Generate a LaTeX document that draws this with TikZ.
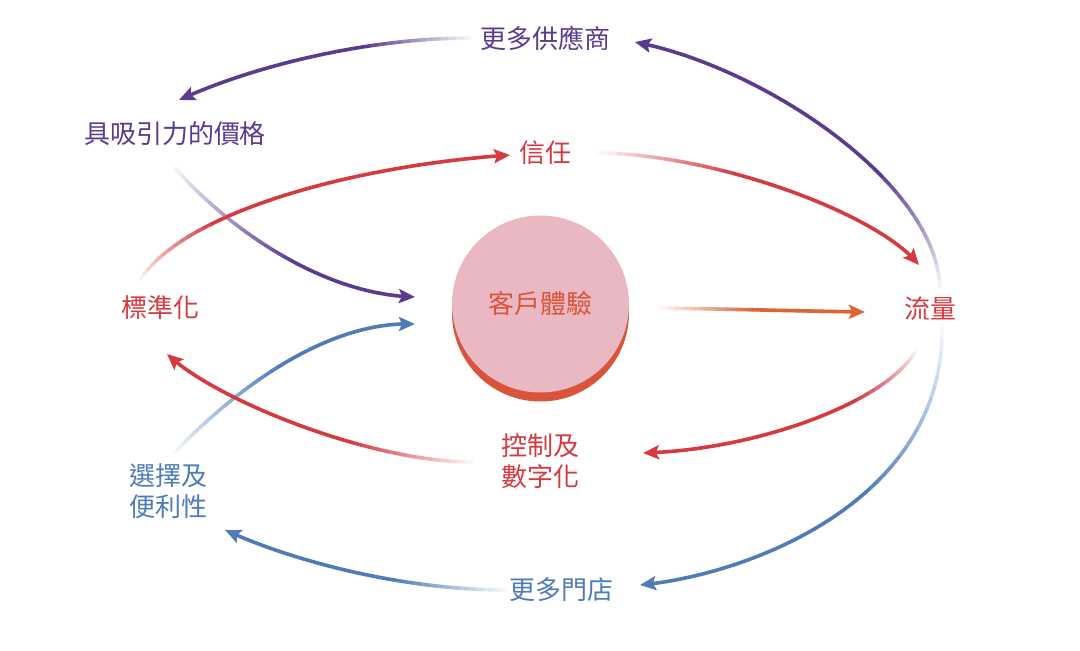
\documentclass[tikz,border=0pt]{standalone}
\usepackage{fontspec}
\newfontfamily\cjkfont{Noto Sans CJK TC}
\usetikzlibrary{arrows.meta,calc}

\definecolor{ringpurple}{HTML}{5A3B8F}
\definecolor{ringred}{HTML}{D43A40}
\definecolor{ringblue}{HTML}{4F7CB8}
\definecolor{ringorange}{HTML}{DB6436}
\definecolor{cxpink}{HTML}{E9B8C2}
\definecolor{cxedge}{HTML}{D9543B}

\tikzset{
  word/.style={font=\cjkfont\fontsize{26}{31}\selectfont, inner sep=0pt, align=center},
  flowline/.style={line width=3.6pt, line cap=round},
  flowhead/.style={-{Stealth[length=16pt,width=14pt,inset=3pt]}, line width=3.6pt},
}

% curve from #1 to #4 (controls #2, #3), colour #5, fading over part #6
\newcommand{\fadearrow}[6]{%
  \foreach \k in {0,...,40}
    \path #1 .. controls #2 and #3 .. #4 coordinate[pos=\k/40] (f\k);
  \foreach \k [evaluate=\k as \pct using {min(100,6+94*\k/(40*#6))},
               evaluate=\k as \kk using int(\k+1)] in {0,...,37}
    \draw[flowline, draw=#5!\pct!white] (f\k) -- (f\kk);
  \draw[flowhead, draw=#5, fill=#5] (f38) -- (f40);
}

\begin{document}
\begin{tikzpicture}[x=1pt, y=-1pt]
  \fill[white] (0,0) rectangle (1080,651);
  \useasboundingbox (0,0) rectangle (1080,651);

  % centre
  \coordinate (cxc) at (540.5,304);
  \fill[cxedge] ($(cxc)+(0,9)$) circle (88.5pt);
  \node[word, circle, fill=cxpink, minimum size=177pt, text=cxedge] (cx) at (cxc) {客戶體驗};

  % labels
  \node[word, text=ringpurple] (supplier) at (545,38) {更多供應商};
  \node[word, text=ringpurple] (price) at (175,134) {具吸引力的價格};
  \node[word, text=ringred] (trust) at (545,153) {信任};
  \node[word, text=ringred] (standard) at (160,308) {標準化};
  \node[word, text=ringred] (traffic) at (930,309) {流量};
  \node[word, text=ringred] (control) at (540,461) {控制及\\數字化};
  \node[word, text=ringblue] (choice) at (168,491) {選擇及\\便利性};
  \node[word, text=ringblue] (stores) at (561,590) {更多門店};

  % arrows into the centre go first
  \fadearrow{($(price)+(0,34)$)}{(225,225)}{(320,295)}{($(cx)+(-125.5,-7)$)}{ringpurple}{0.55}
  \fadearrow{($(choice)+(7,-39)$)}{(225,400)}{(320,320)}{($(cx)+(-125.5,20)$)}{ringblue}{0.5}

  \fadearrow{($(supplier)+(-75,0)$)}{(370,38)}{(255,65)}{($(price)+(4,-34)$)}{ringpurple}{0.33}
  \fadearrow{($(traffic)+(10,-22)$)}{(935,180)}{(760,66)}{($(supplier)+(90,4)$)}{ringpurple}{0.35}
  \fadearrow{($(trust)+(55,0)$)}{(720,155)}{(880,215)}{($(traffic)+(-11,-44)$)}{ringred}{0.35}
  \fadearrow{($(standard)+(-20,-28)$)}{(185,210)}{(360,165)}{($(trust)+(-35,2)$)}{ringred}{0.3}
  \fadearrow{($(control)+(-68,1)$)}{(370,462)}{(215,400)}{($(standard)+(7,46)$)}{ringred}{0.35}
  \fadearrow{($(traffic)+(-14,41)$)}{(890,400)}{(760,450)}{($(control)+(103,-8)$)}{ringred}{0.35}
  \fadearrow{($(traffic)+(12,18)$)}{(945,500)}{(750,575)}{($(stores)+(79,-5)$)}{ringblue}{0.4}
  \fadearrow{($(stores)+(-54,0)$)}{(400,590)}{(290,560)}{($(choice)+(57,39)$)}{ringblue}{0.35}
  \fadearrow{($(cx)+(119.5,4)$)}{(728,309)}{(797,311)}{($(traffic)+(-65,3)$)}{ringorange}{0.45}
\end{tikzpicture}
\end{document}
